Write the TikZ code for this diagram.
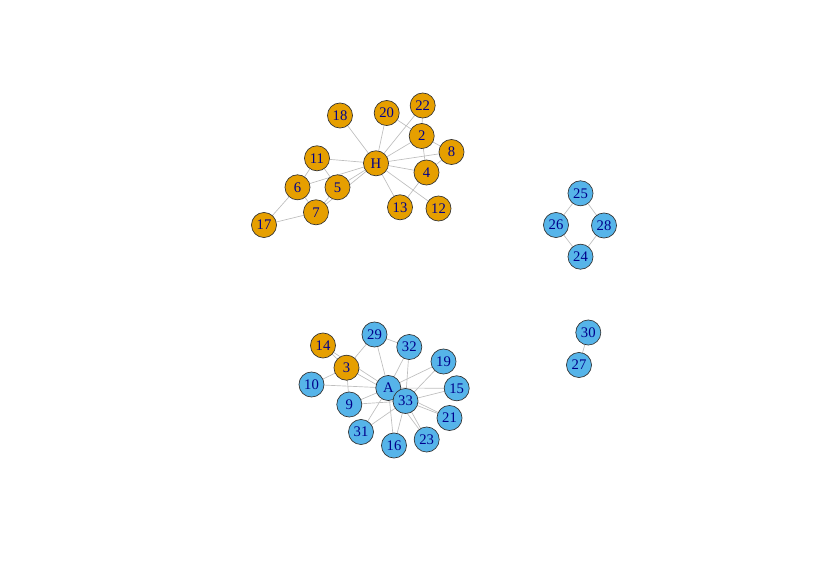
\documentclass[tikz,border=0pt]{standalone}
\usepackage{fontspec}
\setmainfont{Liberation Serif}
\usetikzlibrary{backgrounds}
\definecolor{orng}{HTML}{E69F00}
\definecolor{skyb}{HTML}{56B4E9}
\definecolor{lbl}{HTML}{00008B}
\definecolor{edg}{HTML}{BEBEBE}
\tikzset{
  vtx/.style={circle,draw=black!80,line width=0.5pt,minimum size=18.8pt,inner sep=0pt,text=lbl,font=\fontsize{11}{11}\selectfont},
  ov/.style={vtx,fill=orng},
  bv/.style={vtx,fill=skyb},
  ed/.style={draw=edg,line width=0.5pt}
}
\begin{document}
\begin{tikzpicture}[x=0.75pt,y=-0.75pt]
\useasboundingbox (0,0) rectangle (830,571);
% top cluster
\node[ov] (n18) at (340,115.5) {18};
\node[ov] (n20) at (386.7,113) {20};
\node[ov] (n22) at (422.7,105.5) {22};
\node[ov] (n2) at (421.7,136) {2};
\node[ov] (n8) at (451.5,152) {8};
\node[ov] (nH) at (376,163.3) {H};
\node[ov] (n11) at (317,158.3) {11};
\node[ov] (n4) at (426.5,172.5) {4};
\node[ov] (n6) at (297.5,187.3) {6};
\node[ov] (n5) at (337.5,187.3) {5};
\node[ov] (n7) at (316,212.3) {7};
\node[ov] (n13) at (400,207.3) {13};
\node[ov] (n12) at (438.5,208.5) {12};
\node[ov] (n17) at (264,225) {17};
% right cluster
\node[bv] (n25) at (580.5,193.3) {25};
\node[bv] (n26) at (556,225) {26};
\node[bv] (n28) at (604,225.5) {28};
\node[bv] (n24) at (580.5,256.7) {24};
\node[bv] (n30) at (588.3,332.5) {30};
\node[bv] (n27) at (579,365) {27};
% bottom cluster
\node[bv] (n29) at (374.5,334.5) {29};
\node[bv] (n32) at (409.3,347) {32};
\node[ov] (n14) at (323,345.5) {14};
\node[ov] (n3) at (346.5,367.7) {3};
\node[bv] (n19) at (443.5,361.5) {19};
\node[bv] (n10) at (311.5,384.5) {10};
\node[bv] (nA) at (388.3,388) {A};
\node[bv] (n15) at (456.7,388.3) {15};
\node[bv] (n33) at (405.5,401) {33};
\node[bv] (n9) at (349.3,404.5) {9};
\node[bv] (n21) at (449.5,418) {21};
\node[bv] (n31) at (361,432) {31};
\node[bv] (n16) at (394,445.5) {16};
\node[bv] (n23) at (426.7,439.5) {23};
\begin{scope}[on background layer]
\foreach \a/\b in {n18/nH,n20/nH,n20/n2,n22/nH,n22/n2,n2/nH,n2/n8,n2/n4,n8/nH,n8/n4,nH/n4,nH/n13,nH/n12,n4/n13,nH/n11,nH/n6,nH/n5,nH/n7,n11/n5,n11/n6,n6/n7,n6/n17,n7/n17,n5/n7,
  n25/n26,n25/n28,n26/n24,n28/n24,n30/n27,
  n14/n3,n14/nA,n3/n29,n3/n10,n3/n9,n3/n33,n29/n32,n29/nA,n32/nA,n32/n33,n19/nA,n19/n33,n15/nA,n15/n33,n21/nA,n21/n33,n23/nA,n23/n33,n16/nA,n16/n33,n31/nA,n31/n33,n9/nA,n9/n33,n10/nA,nA/n33}
  \draw[ed] (\a.center) -- (\b.center);
\end{scope}
\end{tikzpicture}
\end{document}
